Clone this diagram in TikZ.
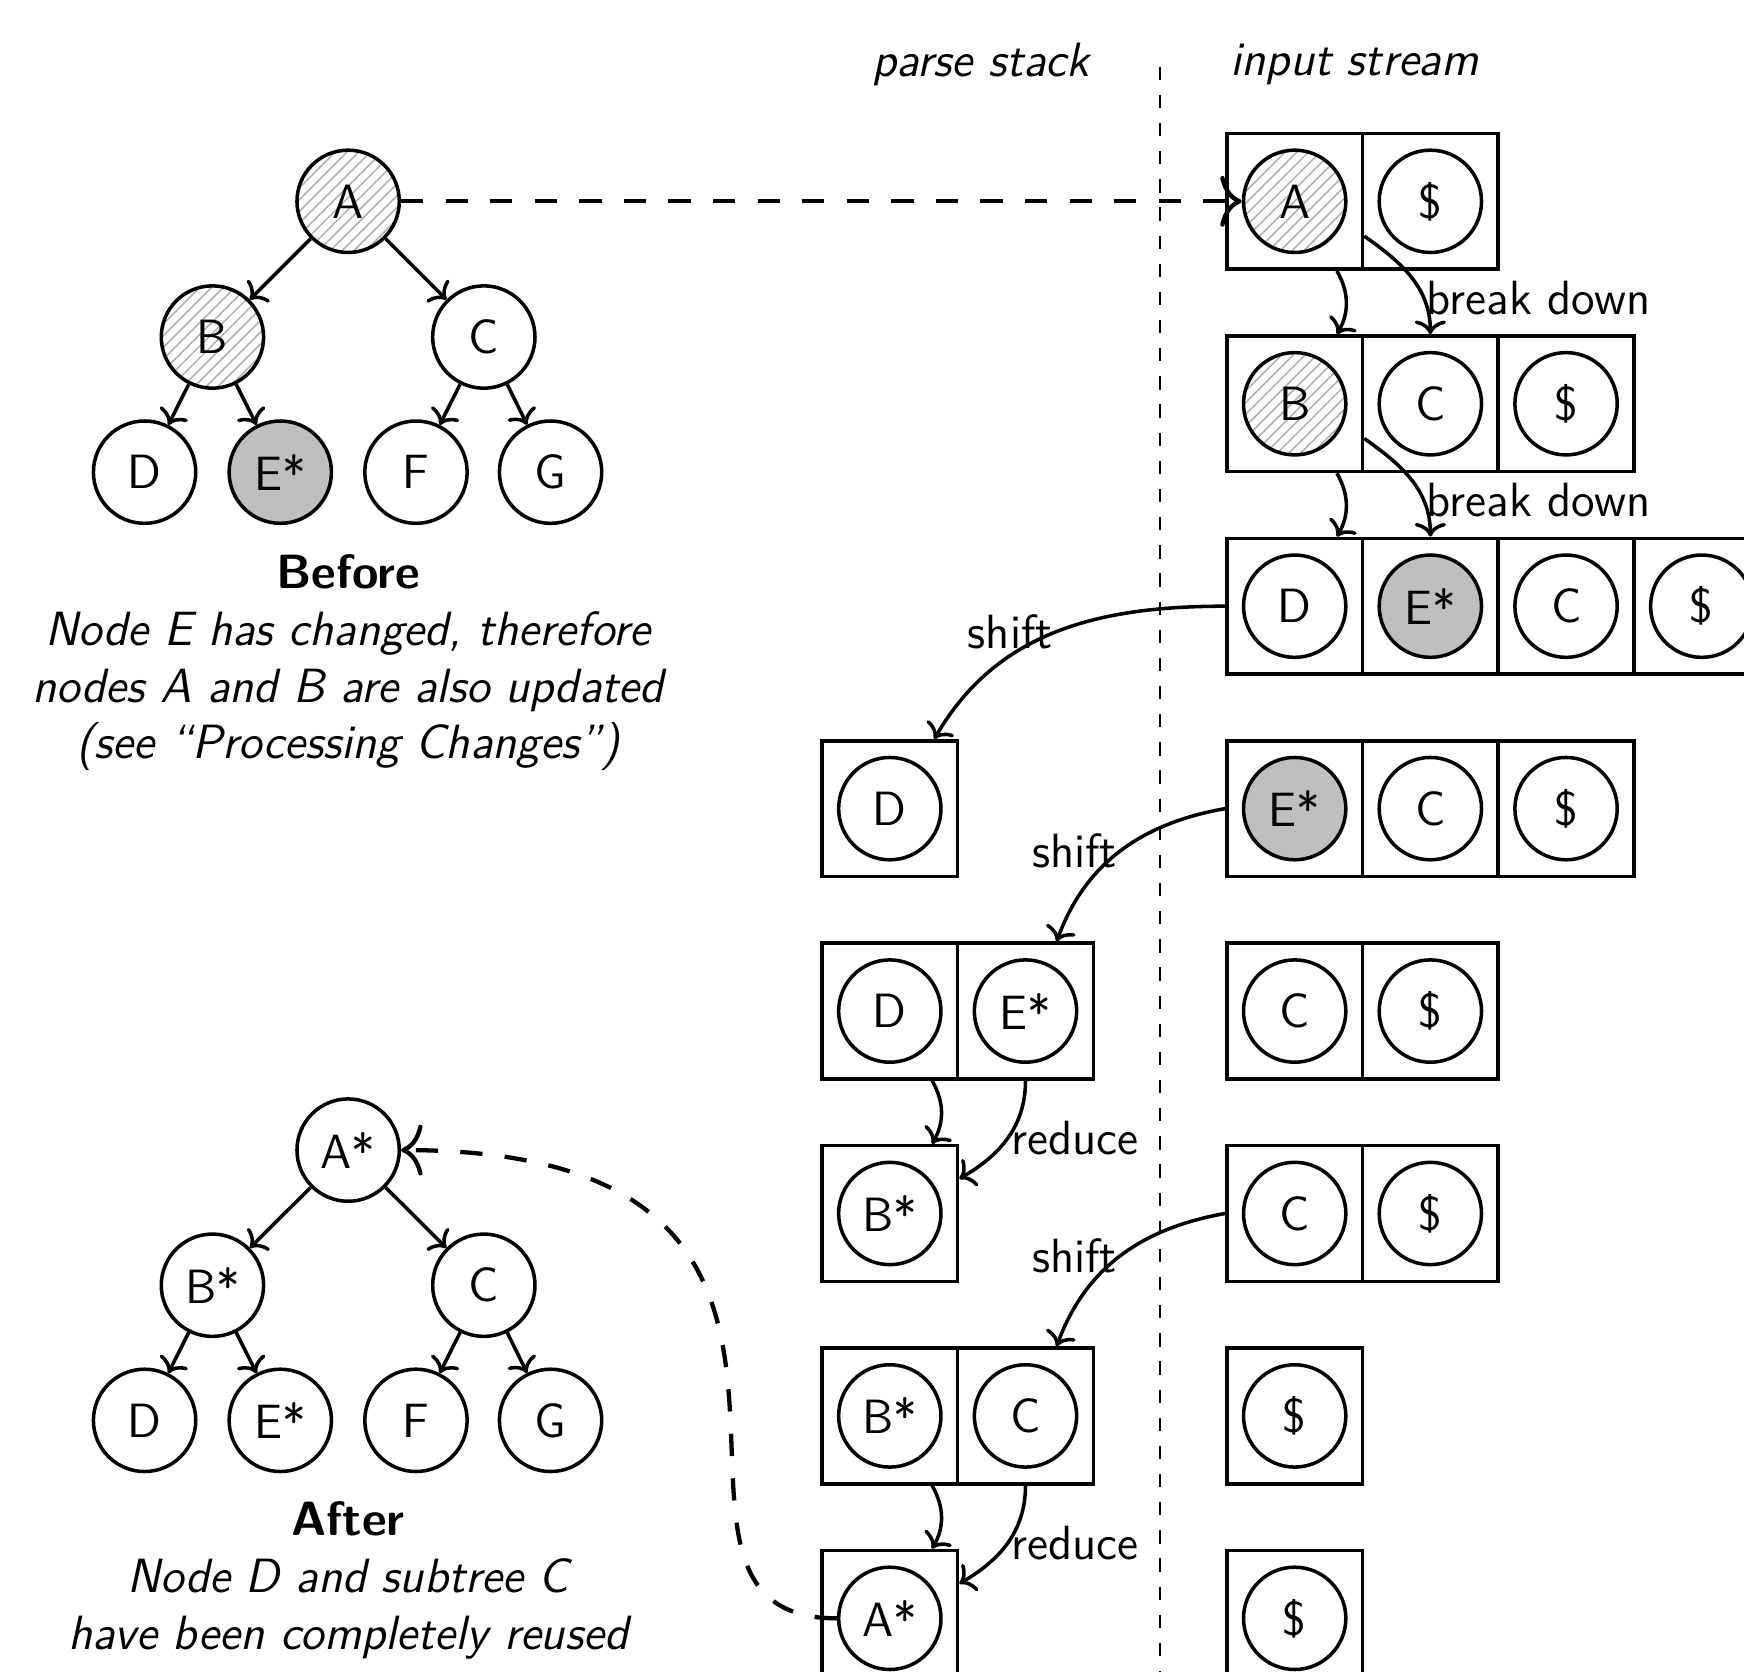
\documentclass[tikz,border=0pt]{standalone}
\usetikzlibrary{arrows.meta,patterns,calc}

\begin{document}
\begin{tikzpicture}[
    font=\sffamily\fontsize{12.3}{14.5}\selectfont,
    line width=0.9pt,
    >={Computer Modern Rightarrow[length=3.5pt,width=8pt]},
    tnode/.style={circle, draw, minimum size=0.92cm, inner sep=0pt},
    cell/.style={rectangle, draw, minimum size=1.22cm, inner sep=0pt},
    hatched/.style={pattern=north east lines, pattern color=gray!60},
    changed/.style={fill=gray!50},
    link/.style={line width=1.1pt, dash pattern=on 5.7pt off 5.7pt, -{Computer Modern Rightarrow[length=5.5pt,width=13pt]}},
    lbl/.style={inner sep=0.5pt}
]
    \path[use as bounding box] (0,0) rectangle (15.68,-15.03);
    \clip (0,0) rectangle (15.68,-15.03);

    % tree before
    \node[tnode, hatched] (a) at (3.13,-1.81) {A};
    \node[tnode, hatched] (b) at (1.91,-3.03) {B};
    \node[tnode] (c) at (4.35,-3.03) {C};
    \node[tnode] (d) at (1.30,-4.245) {D};
    \node[tnode, changed] (e) at (2.52,-4.245) {E*};
    \node[tnode] (f) at (3.74,-4.245) {F};
    \node[tnode] (g) at (4.95,-4.245) {G};
    \draw[->] (a) -- (b);
    \draw[->] (a) -- (c);
    \draw[->] (b) -- (d);
    \draw[->] (b) -- (e);
    \draw[->] (c) -- (f);
    \draw[->] (c) -- (g);
    \node[align=center] (before) at (3.13,-5.96) {\textbf{Before}\\ \itshape Node E has changed, therefore\\ \itshape nodes A and B are also updated\\ \itshape (see ``Processing Changes'')};

    % tree after
    \node[tnode] (a2) at (3.13,-10.34) {A*};
    \node[tnode] (b2) at (1.91,-11.555) {B*};
    \node[tnode] (c2) at (4.35,-11.555) {C};
    \node[tnode] (d2) at (1.30,-12.77) {D};
    \node[tnode] (e2) at (2.52,-12.77) {E*};
    \node[tnode] (f2) at (3.74,-12.77) {F};
    \node[tnode] (g2) at (4.95,-12.77) {G};
    \draw[->] (a2) -- (b2);
    \draw[->] (a2) -- (c2);
    \draw[->] (b2) -- (d2);
    \draw[->] (b2) -- (e2);
    \draw[->] (c2) -- (f2);
    \draw[->] (c2) -- (g2);
    \node[align=center] (after) at (3.13,-14.21) {\textbf{After}\\ \itshape Node D and subtree C\\ \itshape have been completely reused};

    % parse stack | input stream
    \node (stack) at (8.82,-0.58) {\itshape parse stack};
    \node (stream) at (12.18,-0.58) {\itshape input stream};
    \draw[line width=0.6pt, dash pattern=on 3.4pt off 3.8pt] (10.43,-0.60) -- (10.43,-15.2);

    \node[cell, label={[tnode, hatched, name=c1a]center:A}] (in1a) at (11.64,-1.81) {};
    \node[cell, label={[tnode]center:\$}] (in1b) at (12.86,-1.81) {};

    \node[cell, label={[tnode, hatched]center:B}] (in2a) at (11.64,-3.63) {};
    \node[cell, label={[tnode]center:C}] (in2b) at (12.86,-3.63) {};
    \node[cell, label={[tnode]center:\$}] (in2c) at (14.08,-3.63) {};

    \node[cell, label={[tnode]center:D}] (in3a) at (11.64,-5.45) {};
    \node[cell, label={[tnode, changed]center:E*}] (in3b) at (12.86,-5.45) {};
    \node[cell, label={[tnode]center:C}] (in3c) at (14.08,-5.45) {};
    \node[cell, label={[tnode]center:\$}] (in3d) at (15.30,-5.45) {};

    \node[cell, label={[tnode]center:D}] (st4a) at (8.00,-7.27) {};
    \node[cell, label={[tnode, changed]center:E*}] (in4a) at (11.64,-7.27) {};
    \node[cell, label={[tnode]center:C}] (in4b) at (12.86,-7.27) {};
    \node[cell, label={[tnode]center:\$}] (in4c) at (14.08,-7.27) {};

    \node[cell, label={[tnode]center:D}] (st5a) at (8.00,-9.09) {};
    \node[cell, label={[tnode]center:E*}] (st5b) at (9.22,-9.09) {};
    \node[cell, label={[tnode]center:C}] (in5a) at (11.64,-9.09) {};
    \node[cell, label={[tnode]center:\$}] (in5b) at (12.86,-9.09) {};

    \node[cell, label={[tnode]center:B*}] (st6a) at (8.00,-10.91) {};
    \node[cell, label={[tnode]center:C}] (in6a) at (11.64,-10.91) {};
    \node[cell, label={[tnode]center:\$}] (in6b) at (12.86,-10.91) {};

    \node[cell, label={[tnode]center:B*}] (st7a) at (8.00,-12.73) {};
    \node[cell, label={[tnode]center:C}] (st7b) at (9.22,-12.73) {};
    \node[cell, label={[tnode]center:\$}] (in7a) at (11.64,-12.73) {};

    \node[cell, label={[tnode, name=c8a]center:A*}] (st8a) at (8.00,-14.55) {};
    \node[cell, label={[tnode]center:\$}] (in8a) at (11.64,-14.55) {};

    % parser steps
    \draw[link] (a) -- (c1a);
    \draw[->] ([xshift=0.38cm]in1a.south) to[bend left=30] ([xshift=0.38cm]in2a.north);
    \draw[->] ($(in1a.east)!0.5!(in1a.south east)$) to[out=-35, in=90] node[lbl, pos=0.7, right] {break down} (in2b.north);
    \draw[->] ([xshift=0.38cm]in2a.south) to[bend left=30] ([xshift=0.38cm]in3a.north);
    \draw[->] ($(in2a.east)!0.5!(in2a.south east)$) to[out=-35, in=90] node[lbl, pos=0.7, right] {break down} (in3b.north);
    \draw[->] (in3a.west) to[out=180, in=60] node[lbl, midway, left] {shift} ([xshift=0.4cm]st4a.north);
    \draw[->] (in4a.west) to[out=190, in=70] node[lbl, midway, left] {shift} ([xshift=0.28cm]st5b.north);
    \draw[->] ([xshift=0.38cm]st5a.south) to[bend left=30] ([xshift=0.38cm]st6a.north);
    \draw[->] (st5b.south) to[out=-90, in=30] node[lbl, midway, right] {reduce} ($(st6a.east)!0.5!(st6a.north east)$);
    \draw[->] (in6a.west) to[out=190, in=70] node[lbl, midway, left] {shift} ([xshift=0.28cm]st7b.north);
    \draw[->] ([xshift=0.38cm]st7a.south) to[bend left=30] ([xshift=0.38cm]st8a.north);
    \draw[->] (st7b.south) to[out=-90, in=30] node[lbl, midway, right] {reduce} ($(st8a.east)!0.5!(st8a.north east)$);
    \draw[link] (c8a.west) .. controls +(180:2.2) and +(0:4.8) .. (a2.east);
\end{tikzpicture}
\end{document}
